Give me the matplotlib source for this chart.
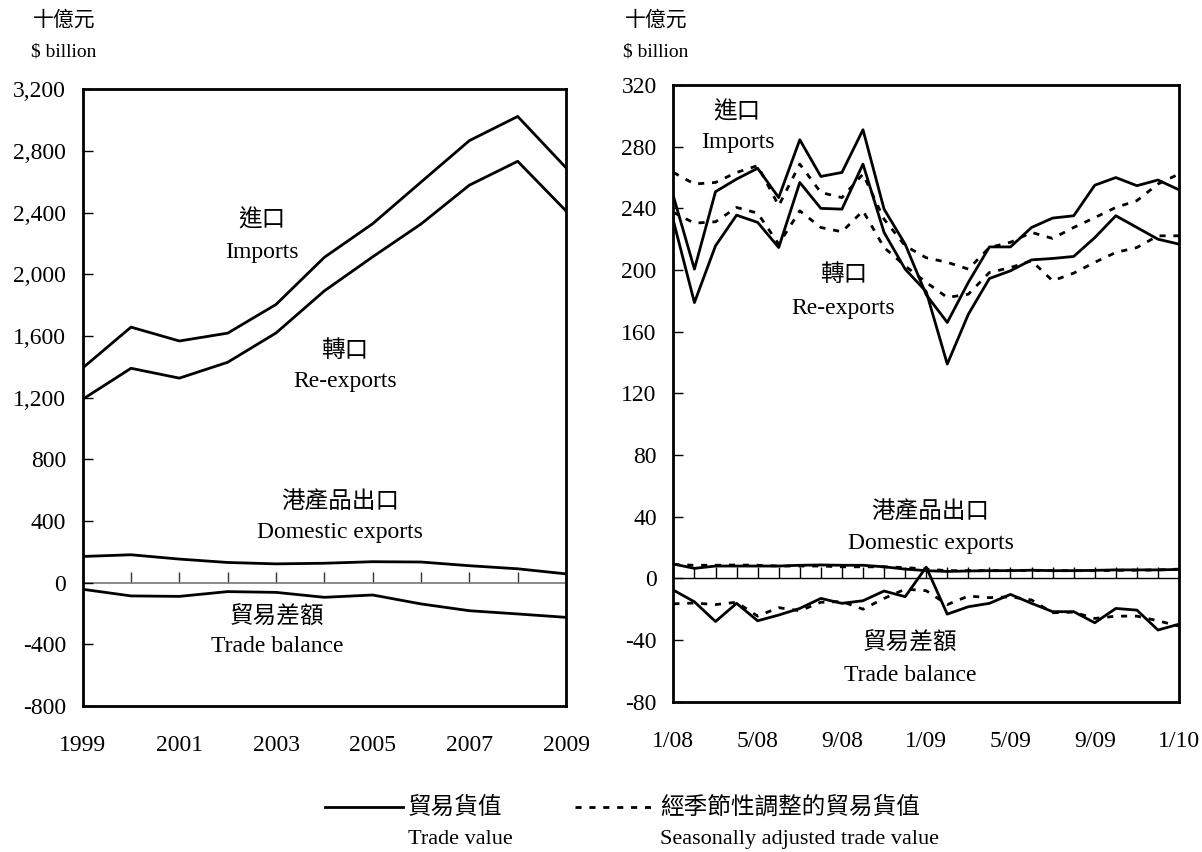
import numpy as np
import matplotlib
matplotlib.use('Agg')
import matplotlib.pyplot as plt
from matplotlib.lines import Line2D
from matplotlib.ticker import FuncFormatter, FixedLocator

plt.rcParams['font.family'] = ['Liberation Serif', 'Noto Sans CJK TC']
CJK = ['Noto Sans CJK TC', 'DejaVu Sans']

# annual data, $ billion
years = np.arange(1999, 2010)
imports_y = [1393, 1658, 1568, 1619, 1805, 2111, 2329, 2599, 2868, 3025, 2692]
reexports_y = [1190, 1391, 1327, 1430, 1620, 1893, 2114, 2327, 2579, 2734, 2412]
domexp_y = [170, 181, 153, 131, 122, 126, 136, 134, 110, 90, 57]
balance_y = [-43, -86, -89, -58, -63, -95, -80, -138, -182, -203, -225]

# monthly data 1/08 - 1/10, $ billion
month_labels = ['1/08', '5/08', '9/08', '1/09', '5/09', '9/09', '1/10']
imports_m = [248, 200.6, 250.8, 259, 266, 247, 284.5, 260.7, 263.3, 291, 239.5, 216.8, 184,
             166, 192, 215, 215, 227.6, 233.7, 235.2, 255, 260, 254.7, 258.4, 252]
reexports_m = [232, 178.9, 215.7, 235.6, 230.9, 214.6, 256.8, 240, 239.5, 268.7, 224.4, 200.6, 186,
               139, 171.3, 194.5, 199.5, 206.6, 207.5, 208.8, 221, 235.2, 227.6, 220, 216.8]
imports_sa = [263.3, 255.8, 256.8, 263.3, 267.7, 241.7, 268.7, 250.3, 247, 262.3, 233, 215.7, 208,
              205, 200.6, 214.6, 218, 224.4, 220.5, 227.6, 234, 240.6, 245, 255.8, 262.3]
reexports_sa = [237.4, 230.4, 231.3, 240.6, 236.9, 216.8, 238.4, 227.6, 224.8, 238.4, 214.6, 202.7, 192,
                182.2, 184.3, 198.4, 201.6, 206, 193, 198, 205, 211.4, 214.6, 222.2, 222.2]
domexp_m = [9.3, 6.5, 8, 8, 8, 8, 8.5, 8.7, 8.5, 8.5, 7.5, 6, 5,
            4.5, 4.8, 5, 5, 5.3, 5, 5, 5.2, 5.5, 5.5, 5.5, 5.8]
domexp_sa = [9, 8.5, 8.5, 8.7, 8.5, 8, 8, 8, 7.5, 7.5, 7.5, 7, 6,
             5, 5, 5, 5, 5.2, 5, 5, 5, 5.2, 5.3, 5.5, 6]
balance_m = [-7.6, -15.2, -28, -16.2, -27.5, -23.8, -19.5, -13, -16.2, -14.5, -8.2, -11.9, 7.3,
             -23.2, -18.4, -16.2, -10.4, -16.2, -21.6, -21.6, -28.8, -19.5, -20.6, -33.5, -29.7]
balance_sa = [-16.5, -16, -17, -15.5, -24.5, -19, -21, -15.5, -15, -20, -13, -7, -8,
              -17, -11.5, -12.5, -12, -14, -22.3, -21.9, -26, -24.5, -24.5, -27.5, -31]
months = np.arange(len(imports_m))

LW = 2.0
DASH = (0, (2.2, 2.8))
FS = 17

fig = plt.figure(figsize=(12.02, 8.52), dpi=100)
ax1 = fig.add_axes([0.0688, 0.1714, 0.4021, 0.7236])
ax2 = fig.add_axes([0.5602, 0.1764, 0.4207, 0.7238])


def style(ax):
    for s in ax.spines.values():
        s.set_linewidth(2.0)
        s.set_color('black')
    ax.tick_params(axis='y', direction='in', length=7, width=1, pad=12, labelsize=FS)
    ax.tick_params(axis='x', length=0, pad=21, labelsize=FS)


# left panel
for s in [imports_y, reexports_y, domexp_y, balance_y]:
    ax1.plot(years, s, color='black', lw=LW)
ax1.set_xlim(1999, 2009)
ax1.set_ylim(-800, 3200)
ax1.set_yticks(np.arange(-800, 3201, 400))
ax1.yaxis.set_major_formatter(FuncFormatter(lambda v, p: f'{v:,.0f}'))
ax1.set_xticks(years[::2])
style(ax1)
z1 = ax1.secondary_xaxis(0, transform=ax1.transData)
z1.spines['bottom'].set_color('#777777')
z1.spines['bottom'].set_linewidth(1.2)
z1.xaxis.set_major_locator(FixedLocator(years))
z1.tick_params(direction='in', length=8, width=1, labelbottom=False, color='#333333')

ax1.text(0.371, 0.788, '進口', transform=ax1.transAxes, ha='center', va='center', fontsize=FS, family=CJK)
ax1.text(0.371, 0.736, 'Imports', transform=ax1.transAxes, ha='center', va='center', fontsize=FS)
ax1.text(0.543, 0.577, '轉口', transform=ax1.transAxes, ha='center', va='center', fontsize=FS, family=CJK)
ax1.text(0.543, 0.527, 'Re-exports', transform=ax1.transAxes, ha='center', va='center', fontsize=FS)
ax1.text(0.532, 0.331, '港產品出口', transform=ax1.transAxes, ha='center', va='center', fontsize=FS, family=CJK)
ax1.text(0.532, 0.281, 'Domestic exports', transform=ax1.transAxes, ha='center', va='center', fontsize=FS)
ax1.text(0.402, 0.144, '貿易差額', transform=ax1.transAxes, ha='center', va='center', fontsize=FS, family=CJK)
ax1.text(0.402, 0.096, 'Trade balance', transform=ax1.transAxes, ha='center', va='center', fontsize=FS)

# right panel
for s in [imports_m, reexports_m, domexp_m, balance_m]:
    ax2.plot(months, s, color='black', lw=LW)
for s in [imports_sa, reexports_sa, domexp_sa, balance_sa]:
    ax2.plot(months, s, color='black', lw=LW, linestyle=DASH)
ax2.set_xlim(0, 24)
ax2.set_ylim(-80, 320)
ax2.set_yticks(np.arange(-80, 321, 40))
ax2.yaxis.set_major_formatter(FuncFormatter(lambda v, p: f'{v:.0f}'))
ax2.set_xticks(months[::4])
ax2.set_xticklabels(month_labels)
style(ax2)
z2 = ax2.secondary_xaxis(0, transform=ax2.transData)
z2.spines['bottom'].set_color('black')
z2.spines['bottom'].set_linewidth(1.0)
z2.xaxis.set_major_locator(FixedLocator(months))
z2.tick_params(direction='in', length=8, width=1, labelbottom=False)

ax2.text(0.126, 0.956, '進口', transform=ax2.transAxes, ha='center', va='center', fontsize=FS, family=CJK)
ax2.text(0.128, 0.906, 'Imports', transform=ax2.transAxes, ha='center', va='center', fontsize=FS)
ax2.text(0.336, 0.692, '轉口', transform=ax2.transAxes, ha='center', va='center', fontsize=FS, family=CJK)
ax2.text(0.336, 0.638, 'Re-exports', transform=ax2.transAxes, ha='center', va='center', fontsize=FS)
ax2.text(0.509, 0.308, '港產品出口', transform=ax2.transAxes, ha='center', va='center', fontsize=FS, family=CJK)
ax2.text(0.509, 0.257, 'Domestic exports', transform=ax2.transAxes, ha='center', va='center', fontsize=FS)
ax2.text(0.468, 0.095, '貿易差額', transform=ax2.transAxes, ha='center', va='center', fontsize=FS, family=CJK)
ax2.text(0.468, 0.043, 'Trade balance', transform=ax2.transAxes, ha='center', va='center', fontsize=FS)

# unit labels
for x in [0.0275, 0.52]:
    fig.text(x, 0.9765, '十億元', ha='left', va='center', fontsize=15, family=CJK)
    fig.text(x - 0.002, 0.939, '$ billion', ha='left', va='center', fontsize=14)

# legend
fig.add_artist(Line2D([0.2704, 0.3353], [0.0528, 0.0528], color='black', lw=LW))
fig.text(0.3394, 0.0528, '貿易貨值', ha='left', va='center', fontsize=FS, family=CJK)
fig.text(0.3394, 0.0141, 'Trade value', ha='left', va='center', fontsize=16)
fig.add_artist(Line2D([0.4784, 0.5449], [0.0528, 0.0528], color='black', lw=LW, linestyle=DASH))
fig.text(0.549, 0.0528, '經季節性調整的貿易貨值', ha='left', va='center', fontsize=FS, family=CJK)
fig.text(0.549, 0.0141, 'Seasonally adjusted trade value', ha='left', va='center', fontsize=16)

fig.savefig('out.png', dpi=100)
